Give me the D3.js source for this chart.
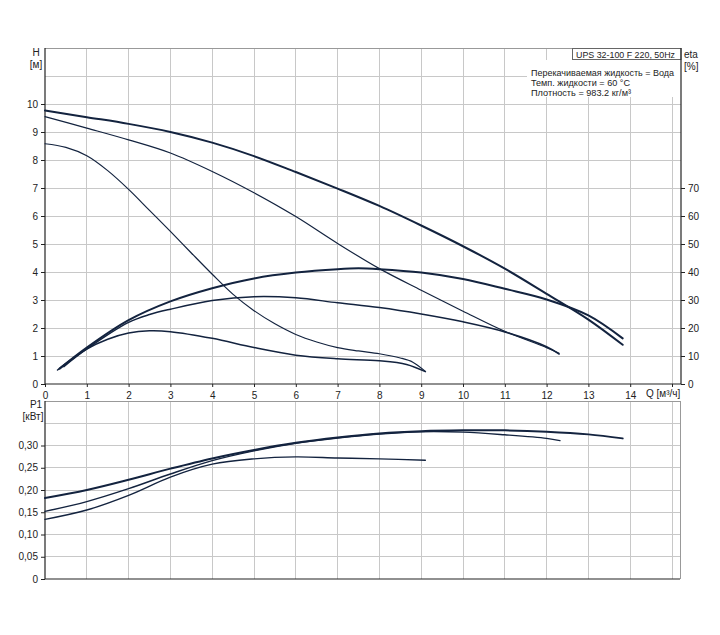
<!DOCTYPE html>
<html><head><meta charset="utf-8">
<script src="https://cdn.jsdelivr.net/npm/d3@7"></script>
<style>
body{margin:0;background:#fff;}
text{font-family:"Liberation Sans",Arial,sans-serif;fill:#222;}
</style></head><body>
<svg id="c" width="720" height="635"></svg>
<script>
// ---- data ----
const qTicks = [0,1,2,3,4,5,6,7,8,9,10,11,12,13,14];
const hTicks = [0,1,2,3,4,5,6,7,8,9,10];
const etaTicks = [0,10,20,30,40,50,60,70];
const pTicks = [0,0.05,0.10,0.15,0.20,0.25,0.30];
const pTickLabels = ["0","0,05","0,10","0,15","0,20","0,25","0,30"];

const qH3 = [0,1,2,3,4,5,6,7,8,9,10,11,12,13,13.82];
const H3  = [9.77,9.53,9.29,9.0,8.62,8.14,7.57,6.98,6.36,5.66,4.92,4.12,3.22,2.3,1.4];
const qH2 = [0,1,2,3,4,5,6,7,8,9,10,11,12,12.3];
const H2  = [9.55,9.14,8.72,8.25,7.59,6.83,5.98,5.02,4.12,3.35,2.6,1.88,1.3,1.1];
const qH1 = [0,0.5,1,1.5,2,2.5,3,3.5,4,4.5,5,5.5,6,6.5,7,7.5,8,8.5,8.8,9.1];
const H1  = [8.58,8.45,8.15,7.62,6.95,6.2,5.45,4.68,3.92,3.2,2.62,2.15,1.77,1.5,1.3,1.18,1.08,0.93,0.78,0.45];

const qE1 = [0.3,1,1.5,2,2.5,3,4,5,6,7,8,8.65,9.1];
const E1  = [5,12.5,16,18.2,19,18.7,16.3,13,10.3,9.0,8.3,7.0,4.4];
const qE2 = [0.45,1,2,2.5,3,4,5,6,7,8,9,10,11,12,12.3];
const E2  = [6.2,12.5,22,24.8,26.7,29.8,31.2,30.8,29.0,27.3,25,22.2,18.6,13.3,10.7];
const qE3 = [0.35,1,2,3,4,5,6,7,7.5,8,9,10,11,12,13,13.82];
const E3  = [5.5,13,22.8,29.5,34.2,37.7,39.8,41,41.3,41,39.8,37.5,34,30.2,24.5,16.3];

const qP3 = [0,1,2,3,4,5,6,7,8,9,10,11,12,13,13.82];
const P3  = [0.182,0.2,0.223,0.248,0.271,0.29,0.306,0.318,0.327,0.332,0.334,0.334,0.331,0.325,0.316];
const qP2 = [0,1,2,3,4,5,6,7,8,9,10,11,12,12.32];
const P2  = [0.152,0.174,0.203,0.236,0.266,0.288,0.305,0.317,0.326,0.331,0.330,0.324,0.316,0.311];
const qP1 = [0,1,2,3,4,5,6,7,8,9.1];
const P1  = [0.134,0.155,0.188,0.229,0.258,0.27,0.2745,0.272,0.27,0.267];

const legendTitle = "UPS 32-100 F 220, 50Hz";
const legendLines = ["Перекачиваемая жидкость = Вода","Темп. жидкости = 60 °C","Плотность = 983.2 кг/м³"];
const legendWidths = [143,99,100];

// ---- layout ----
const svg = d3.select("#c");
const L = 45, R = 681;
const x = d3.scaleLinear().domain([0,15.2]).range([L, L+41.8*15.2]);
const yH = d3.scaleLinear().domain([0,12]).range([384,48]);
const yE = d3.scaleLinear().domain([0,120]).range([384,48]);
const yP = d3.scaleLinear().domain([0,0.4]).range([579,401]);
const grid = "#c8c8c8", ink = "#13233f";

function gridLines(g, yScale, yVals, y0, y1){
  d3.range(1,16).forEach(q=>{
    g.append("line").attr("x1",x(q)).attr("x2",x(q)).attr("y1",y0).attr("y2",y1)
      .attr("stroke",grid).attr("stroke-width",1).attr("shape-rendering","crispEdges");
  });
  yVals.forEach(v=>{
    g.append("line").attr("x1",L).attr("x2",R).attr("y1",yScale(v)).attr("y2",yScale(v))
      .attr("stroke",grid).attr("stroke-width",1).attr("shape-rendering","crispEdges");
  });
}

// top plot grid
const gTop = svg.append("g");
gridLines(gTop, yH, d3.range(1,12), 48, 384);
gTop.append("line").attr("x1",L).attr("x2",R).attr("y1",48).attr("y2",48).attr("stroke","#999").attr("shape-rendering","crispEdges");

// bottom plot grid
const gBot = svg.append("g");
gridLines(gBot, yP, [0.05,0.1,0.15,0.2,0.25,0.3,0.35], 401, 579);
gBot.append("line").attr("x1",L).attr("x2",680).attr("y1",401).attr("y2",401).attr("stroke","#999").attr("shape-rendering","crispEdges");
gBot.append("line").attr("x1",680).attr("x2",680).attr("y1",401).attr("y2",579).attr("stroke","#999").attr("shape-rendering","crispEdges");

// legend box
svg.append("rect").attr("x",527).attr("y",60).attr("width",R-527).attr("height",37).attr("fill","#fff");
svg.append("rect").attr("x",572.5).attr("y",48.5).attr("width",R-572.5).attr("height",11).attr("fill","#fff").attr("stroke","#666").attr("stroke-width",1);
svg.append("text").attr("x",576).attr("y",57.5).attr("font-size","9.5px")
  .attr("textLength",99).attr("lengthAdjust","spacingAndGlyphs").text(legendTitle);
legendLines.forEach((t,i)=>{
  svg.append("text").attr("x",531).attr("y",75.5+i*10.3).attr("font-size","9.3px")
    .attr("textLength",legendWidths[i]).attr("lengthAdjust","spacingAndGlyphs").text(t);
});

// axes top
const axBottom = d3.axisBottom(x).tickValues(d3.range(0,16)).tickSize(3).tickFormat(d=> d<15 ? d : "");
const gx = svg.append("g").attr("transform","translate(0,384)").call(axBottom);
const axLeft = d3.axisLeft(yH).tickValues(hTicks).tickSize(4).tickFormat(d3.format("d"));
const gy = svg.append("g").attr("transform",`translate(${L},0)`).call(axLeft);
const axRight = d3.axisRight(yE).tickValues(etaTicks).tickSize(4).tickFormat(d3.format("d"));
const gr = svg.append("g").attr("transform",`translate(${R},0)`).call(axRight);
[gx,gy,gr].forEach(g=>{
  g.select(".domain").remove();
  g.selectAll("line").attr("stroke","#222");
  g.selectAll("text").attr("font-size","10px").attr("fill","#222").style("font-family","Liberation Sans, Arial, sans-serif");
});
gx.selectAll("text").attr("dy","0.85em");
svg.append("line").attr("x1",L).attr("x2",L).attr("y1",48).attr("y2",384).attr("stroke","#222").attr("stroke-width",1.2);
svg.append("line").attr("x1",L).attr("x2",R).attr("y1",384).attr("y2",384).attr("stroke","#222").attr("stroke-width",1.2);
svg.append("line").attr("x1",R).attr("x2",R).attr("y1",48).attr("y2",384).attr("stroke","#222").attr("stroke-width",1.2);

// axes bottom
const axLeftP = d3.axisLeft(yP).tickValues(pTicks).tickSize(4).tickFormat((d,i)=>pTickLabels[i]);
const gp = svg.append("g").attr("transform",`translate(${L},0)`).call(axLeftP);
gp.select(".domain").remove();
gp.selectAll("line").attr("stroke","#222");
gp.selectAll("text").attr("font-size","10px").attr("fill","#222");
svg.append("line").attr("x1",L).attr("x2",L).attr("y1",401).attr("y2",579).attr("stroke","#222").attr("stroke-width",1.2);
svg.append("line").attr("x1",L).attr("x2",680).attr("y1",579).attr("y2",579).attr("stroke","#222").attr("stroke-width",1.2);

// axis titles
svg.append("text").attr("x",36).attr("y",56).attr("font-size","10px").attr("text-anchor","middle").text("H");
svg.append("text").attr("x",36).attr("y",68).attr("font-size","10px").attr("text-anchor","middle").text("[м]");
svg.append("text").attr("x",684).attr("y",58).attr("font-size","10px").text("eta");
svg.append("text").attr("x",684).attr("y",70).attr("font-size","10px").text("[%]");
svg.append("text").attr("x",646).attr("y",397).attr("font-size","10px").text("Q [м³/ч]");
svg.append("text").attr("x",36).attr("y",408).attr("font-size","10px").attr("text-anchor","middle").text("P1");
svg.append("text").attr("x",33).attr("y",420).attr("font-size","10px").attr("text-anchor","middle").text("[кВт]");

// curves
function curve(qs, vs, yScale, w){
  const pts = qs.map((q,i)=>[q, vs[i]]);
  const line = d3.line().x(d=>x(d[0])).y(d=>yScale(d[1])).curve(d3.curveCatmullRom.alpha(0.5));
  svg.append("path").attr("d",line(pts)).attr("fill","none").attr("stroke",ink).attr("stroke-width",w).attr("stroke-linecap","round");
}
curve(qH1,H1,yH,1.2);
curve(qH2,H2,yH,1.2);
curve(qH3,H3,yH,2);
curve(qE1,E1,yE,1.5);
curve(qE2,E2,yE,1.5);
curve(qE3,E3,yE,2);
curve(qP1,P1,yP,1.4);
curve(qP2,P2,yP,1.4);
curve(qP3,P3,yP,2);
</script>
</body></html>
